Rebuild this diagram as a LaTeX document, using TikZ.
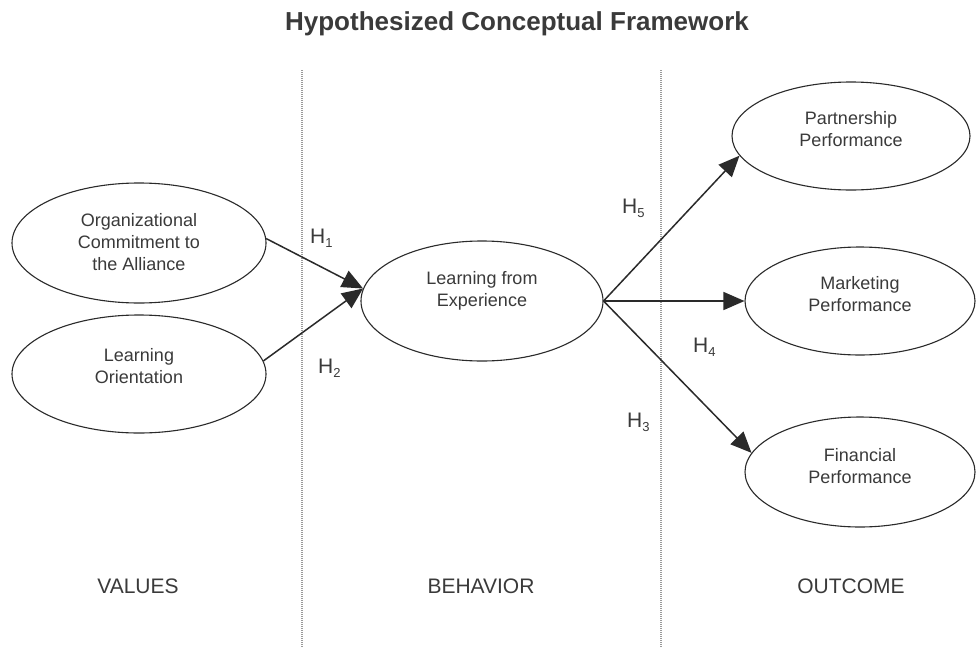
\documentclass[tikz,border=0pt]{standalone}
\usepackage{fontspec}
\setmainfont{Liberation Sans}
\usetikzlibrary{shapes.geometric,arrows.meta}

\definecolor{inkline}{HTML}{2A2A2A}
\definecolor{inktext}{HTML}{3A3A3A}
\definecolor{divider}{HTML}{9A9A9A}

\tikzset{
  construct/.style={ellipse, draw=inkline, line width=1.1pt, inner sep=0pt},
  ctext/.style={font=\fontsize{18}{22}\selectfont, text=inktext, align=center},
  path/.style={draw=inkline, line width=1.5pt, -{Triangle[length=21pt,width=18pt]}},
  hyp/.style={font=\fontsize{21}{24}\selectfont, text=inktext, anchor=base west, inner sep=0pt},
  zone/.style={font=\fontsize{21}{24}\selectfont, text=inktext, anchor=base},
  sep/.style={draw=divider, line width=1.2pt, dash pattern=on 1pt off 1pt},
}
\newcommand{\hsub}[1]{H\raisebox{-4pt}{\fontsize{13}{14}\selectfont #1}}

\begin{document}
\begin{tikzpicture}[x=1pt,y=-1pt]
  \useasboundingbox (0,0) rectangle (977,648);
  \fill[white] (0,0) rectangle (977,648);

  % title
  \node[font=\bfseries\fontsize{26}{30}\selectfont, text=inktext, anchor=base] (title) at (517,30) {Hypothesized Conceptual Framework};

  % column dividers
  \coordinate (d1top) at (302,70);
  \coordinate (d1bot) at (302,648);
  \coordinate (d2top) at (661,70);
  \coordinate (d2bot) at (661,648);
  \draw[sep] (d1top) -- (d1bot);
  \draw[sep] (d2top) -- (d2bot);

  % constructs
  \node[construct, minimum width=254pt, minimum height=120pt,
        label={[ctext, yshift=1pt]center:Organizational\\Commitment to\\the Alliance}] (oc) at (139,243) {};
  \node[construct, minimum width=254pt, minimum height=118pt,
        label={[ctext, yshift=8pt]center:Learning\\Orientation}] (lo) at (139,374) {};
  \node[construct, minimum width=242pt, minimum height=120pt,
        label={[ctext, yshift=10pt]center:Learning from\\Experience}] (lfe) at (482,301) {};
  \node[construct, minimum width=238pt, minimum height=108pt,
        label={[ctext, yshift=7pt]center:Partnership\\Performance}] (pp) at (851,136) {};
  \node[construct, minimum width=230pt, minimum height=108pt,
        label={[ctext, yshift=7pt]center:Marketing\\Performance}] (mk) at (860,301) {};
  \node[construct, minimum width=230pt, minimum height=110pt,
        label={[ctext, yshift=6pt]center:Financial\\Performance}] (fn) at (860,472) {};

  % hypothesised paths
  \draw[path] (oc.2) -- (lfe.174);
  \draw[path] (lo.6) -- (lfe.174);
  \draw[path] (lfe.east) -- (pp.190);
  \draw[path] (lfe.east) -- (mk.west);
  \draw[path] (lfe.east) -- (fn.170);

  % hypothesis labels
  \node[hyp] (h1) at (310,243) {\hsub{1}};
  \node[hyp] (h2) at (318,373) {\hsub{2}};
  \node[hyp] (h5) at (622,213) {\hsub{5}};
  \node[hyp] (h4) at (693,352) {\hsub{4}};
  \node[hyp] (h3) at (627,427) {\hsub{3}};

  % column headings
  \node[zone] (values) at (138,593) {VALUES};
  \node[zone] (behavior) at (481,593) {BEHAVIOR};
  \node[zone] (outcome) at (851,593) {OUTCOME};
\end{tikzpicture}
\end{document}
